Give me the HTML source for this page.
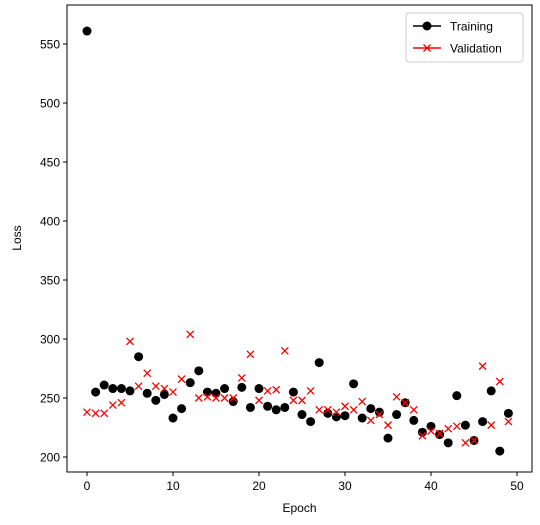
<!DOCTYPE html>
<html><head><meta charset="utf-8"><style>
body{margin:0;background:#fff;}
svg{display:block;font-family:"Liberation Sans","DejaVu Sans",sans-serif;}
</style></head><body>
<svg id="c" width="540" height="525">
<rect x="67" y="5" width="465" height="467" fill="#fff" stroke="#000" stroke-width="1"/>
<g id="axes"></g><g id="marks"></g>
<text x="299.5" y="512" font-size="12" text-anchor="middle">Epoch</text>
<text x="21" y="238" font-size="12" text-anchor="middle" transform="rotate(-90 21 238)">Loss</text>
<g>
<rect x="406" y="13" width="117" height="49" rx="3" fill="#fff" stroke="#ccc"/>
<g>
<line x1="413" y1="26" x2="441" y2="26" stroke="#000" stroke-width="1.5"/><circle cx="427" cy="26" r="4.5" fill="#000"/>
<text x="450" y="30.5" font-size="12">Training</text></g>
<g>
<line x1="413" y1="48" x2="441" y2="48" stroke="red" stroke-width="1.5"/>
<path d="M423.5 44.5L430.5 51.5M430.5 44.5L423.5 51.5" stroke="red" stroke-width="1.3"/>
<text x="450" y="52.5" font-size="12">Validation</text></g>
</g>
</svg>
<script>
const epochs=[...Array(50).keys()];
const training=[561,255,261,258,258,256,285,254,248,253,233,241,263,273,255,254,258,247,259,242,258,243,240,242,255,236,230,280,237,234,235,262,233,241,238,216,236,246,231,221,226,219,212,252,227,214,230,256,205,237];
const validation=[238,237,237,244,246,298,260,271,260,258,255,266,304,250,251,250,250,250,267,287,248,256,257,290,248,248,256,240,240,238,243,240,247,231,236,227,251,246,240,218,222,220,224,226,212,214,277,227,264,230];
const xTicks=[0,10,20,30,40,50];
const yTicks=[200,250,300,350,400,450,500,550];
const NS="http://www.w3.org/2000/svg";
const X=v=>87+v*8.6;
const Y=v=>457-(v-200)*1.18;
const axes=document.getElementById('axes'),marks=document.getElementById('marks');
function mk(t,a,p){const e=document.createElementNS(NS,t);for(const k in a)e.setAttribute(k,a[k]);p.appendChild(e);return e;}
xTicks.forEach(t=>{
const g=mk('g',{},axes);


mk('line',{x1:X(t),x2:X(t),y1:472,y2:476,stroke:'#000'},g);
const tx=mk('text',{x:X(t),y:490,'font-size':12,'text-anchor':'middle'},g);tx.textContent=t;});
yTicks.forEach(t=>{
const g=mk('g',{},axes);


mk('line',{x1:63,x2:67,y1:Y(t),y2:Y(t),stroke:'#000'},g);
const tx=mk('text',{x:60,y:Y(t)+4.5,'font-size':12,'text-anchor':'end'},g);tx.textContent=t;});
training.forEach((v,i)=>{
const c=mk('circle',{cx:X(epochs[i]),cy:Y(v),r:4.5,fill:'#000'},marks);

});
validation.forEach((v,i)=>{
const x=X(epochs[i]),y=Y(v);
const p=mk('path',{d:`M${x-3.5} ${y-3.5}L${x+3.5} ${y+3.5}M${x+3.5} ${y-3.5}L${x-3.5} ${y+3.5}`,stroke:'red','stroke-width':1.3},marks);

});
</script>
</body></html>
